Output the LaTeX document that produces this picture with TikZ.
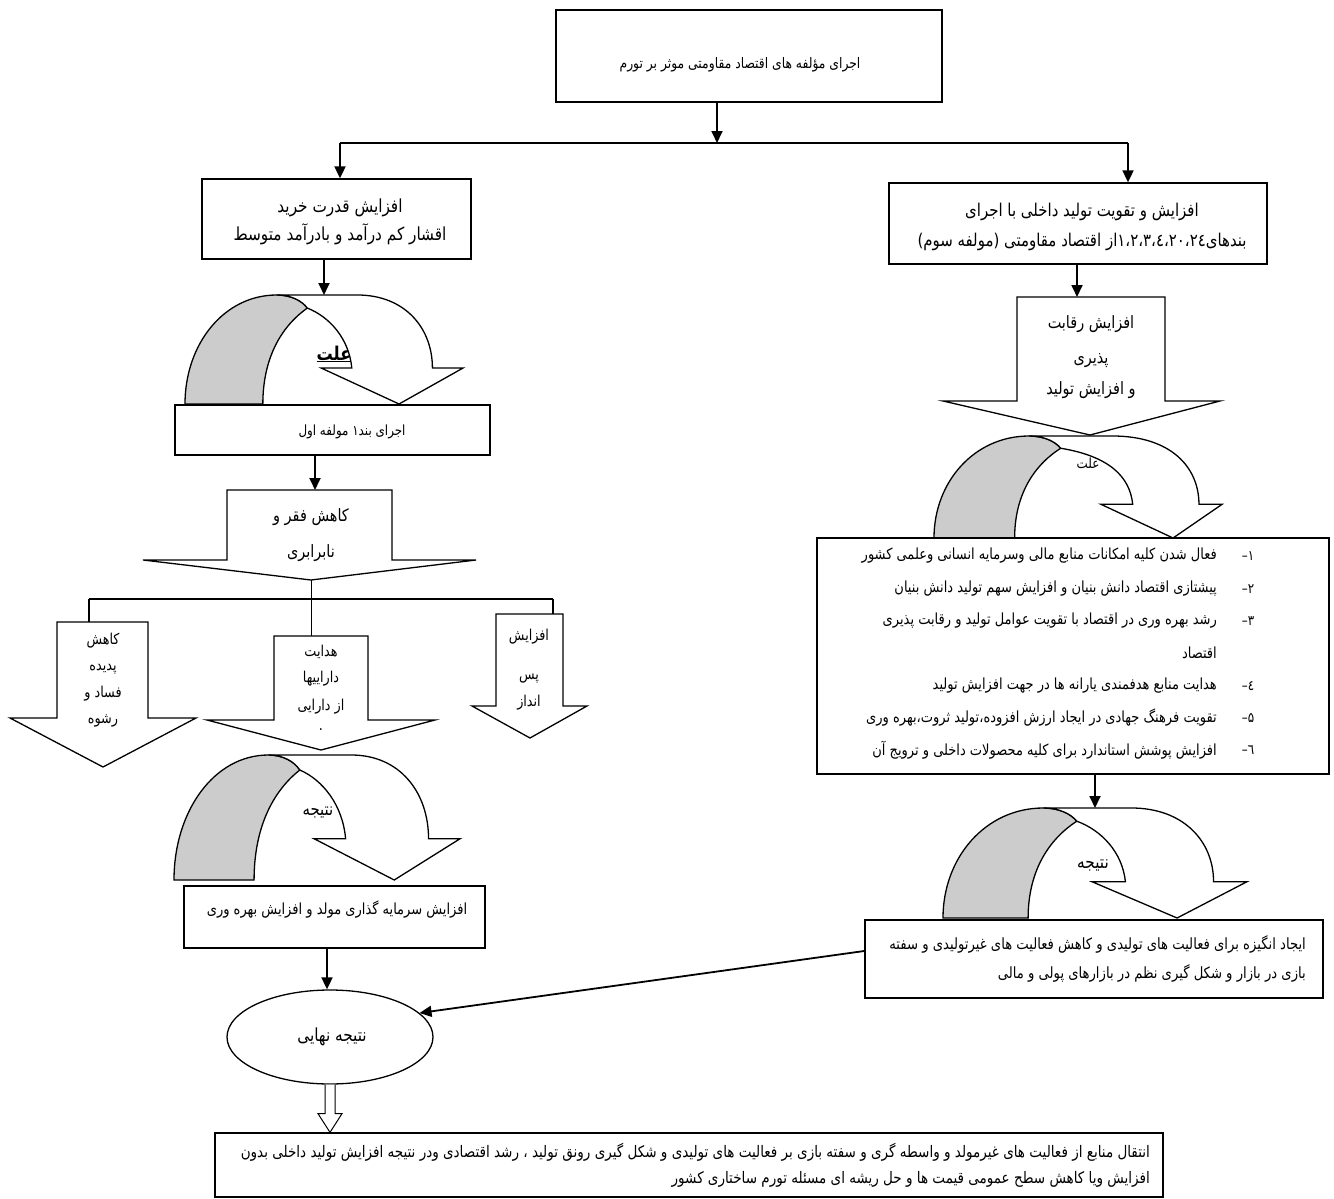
\documentclass[tikz,border=0pt]{standalone}
\usepackage{fontspec}
\newfontfamily\arabicfont[Script=Arabic, FakeStretch=0.85]{DejaVu Sans}
\usetikzlibrary{arrows.meta,shapes.geometric,calc}
\TeXXeTstate=1
\newcommand{\fa}[1]{\beginR #1\endR}
\newcommand{\uHead}{0.49}
\newcommand{\uTip}{0.77}
\newcommand{\uIn}{0.60}
\newcommand{\uOut}{0.89}

\tikzset{
  box/.style={draw, line width=1.3pt, rectangle, inner sep=0pt},
  fa/.style 2 args={font=\arabicfont\fontsize{#1}{#2}\selectfont, inner sep=0pt},
  flow/.style={line width=1.8pt, -{Triangle[length=12pt,width=11pt]}},
  link/.style={line width=1.3pt},
  narrow head/.code={\renewcommand{\uHead}{0.58}\renewcommand{\uTip}{0.83}\renewcommand{\uIn}{0.69}\renewcommand{\uOut}{0.92}},
  uturn/.pic={
    \filldraw[line width=1.3pt, fill=black!20] (0,1) .. controls (0,0.45) and (0.14,0) .. (0.33,0)
      .. controls (0.38,0) and (0.42,0.05) .. (0.44,0.12)
      .. controls (0.34,0.3) and (0.28,0.6) .. (0.28,1) -- cycle;
    \filldraw[line width=1.3pt, fill=white] (0.33,0) -- (0.62,0) .. controls ({\uOut-0.1},0) and (\uOut,0.3) .. (\uOut,0.67)
      -- (1,0.67) -- (\uTip,1) -- (\uHead,0.67) -- (\uIn,0.67)
      .. controls ({\uIn-0.01},0.4) and ({\uIn-0.08},0.2) .. (0.44,0.12)
      .. controls (0.42,0.05) and (0.38,0) .. (0.33,0) -- cycle;
    \coordinate (-top) at (0.5,0);
  }
}

\begin{document}
\begin{tikzpicture}[x=1pt,y=-1pt]
\useasboundingbox (0,0) rectangle (1334,1199);

% top of the chart
\node[box, minimum width=386, minimum height=92] (top) at (749,56) {};
\node[fa={14.5}{18}] (toptext) at (740,65) {\fa{اجرای مؤلفه های اقتصاد مقاومتی موثر بر تورم}};
\coordinate (split) at (717,143);
\coordinate (splitL) at (340,143);
\coordinate (splitR) at (1128,143);
\draw[flow] (top.south -| split) -- (split);
\draw[link] (splitL) -- (splitR);

% left column
\node[box, minimum width=269, minimum height=80] (buy) at (336.5,219) {};
\node[fa={18}{28}, align=center] (buytext) at (340,222)
  {\fa{افزایش قدرت خرید}\\\fa{اقشار کم درآمد و بادرآمد متوسط}};
\draw[flow] (splitL) -- (splitL |- buy.north);

\begin{scope}[shift={(185,295)}, x=278pt, y=-109pt]
  \pic (causeL) {uturn};
\end{scope}
\draw[flow] (buy.south -| causeL-top) -- (causeL-top);
\node[font=\arabicfont\bfseries\fontsize{19}{20}\selectfont, inner sep=0pt] (causeLtxt) at (334,354) {\fa{\underline{علت}}};

\node[box, minimum width=315, minimum height=50] (band) at (332.5,430) {};
\node[fa={14}{18}] (bandtext) at (352,432) {\fa{اجرای بند١ مولفه اول}};

\draw[link, fill=white] (227,490) -- (392,490) -- (392,560) -- (476,560) -- (311,580) -- (143,560) -- (227,560) -- cycle;
\coordinate (povertyTop) at (315,490);
\coordinate (povertyTip) at (311,580);
\node[fa={17}{36}, align=center] (poverty) at (311,535) {\fa{کاهش فقر و}\\\fa{نابرابری}};
\draw[flow] (band.south -| povertyTop) -- (povertyTop);

% three branches
\coordinate (forkL) at (89,599);
\coordinate (forkR) at (553,599);
\draw[link] (forkL) -- (forkR);
\draw[line width=0.6pt] (povertyTip) -- (311,636);

\draw[link, fill=white] (57,622) -- (148,622) -- (148,718) -- (196,718) -- (103,767) -- (10,718) -- (57,718) -- cycle;
\node[fa={15}{26.5}, align=center] (graft) at (103,680) {\fa{کاهش}\\\fa{پدیده}\\\fa{فساد و}\\\fa{رشوه}};
\draw[link] (forkL) -- (89,622);

\draw[link, fill=white] (274,636) -- (368,636) -- (368,720) -- (435,720) -- (321,750) -- (207,720) -- (274,720) -- cycle;
\node[fa={15}{26}, align=center] (assets) at (321,688) {\fa{هدایت}\\\fa{داراییها}\\[2pt]\fa{از دارایی}\\[-6pt].};

\draw[link, fill=white] (496,614) -- (563,614) -- (563,706) -- (587,706) -- (530,738) -- (472,706) -- (496,706) -- cycle;
\node[fa={15}{27}, align=center] (saving) at (529,670) {\fa{افزایش}\\[12pt]\fa{پس}\\\fa{انداز}};
\draw[link] (forkR) -- (553,614);

\begin{scope}[shift={(174,755)}, x=286pt, y=-125pt]
  \pic (resultL) {uturn};
\end{scope}
\node[fa={17.5}{20}] (resultLtxt) at (318,813) {\fa{نتیجه}};

\node[box, minimum width=301, minimum height=62] (invest) at (334.5,917) {};
\node[fa={15.3}{18}] (investtext) at (337,910) {\fa{افزایش سرمایه گذاری مولد و افزایش بهره وری}};

\node[draw, ellipse, line width=1.3pt, minimum width=206, minimum height=94] (final) at (330,1037) {};
\node[fa={18}{20}] (finaltext) at (332,1037) {\fa{نتیجه نهایی}};
\draw[flow] (invest.south -| 327,0) -- (final.north -| 327,0);

% right column
\node[box, minimum width=378, minimum height=81] (prod) at (1078,223.5) {};
\node[fa={17.6}{30}, align=center] (prodtext) at (1082,227)
  {\fa{افزایش و تقویت تولید داخلی با اجرای}\\\fa{بندهای١،٢،٣،٤،٢٠،٢٤از اقتصاد مقاومتی (مولفه سوم)}};
\draw[flow] (splitR) -- (splitR |- prod.north);

\draw[link, fill=white] (1017,297) -- (1165,297) -- (1165,401) -- (1220,401) -- (1090,435) -- (943,401) -- (1017,401) -- cycle;
\coordinate (competeTop) at (1077,297);
\node[fa={17}{31}, align=center] (compete) at (1091,357) {\fa{افزایش رقابت}\\[4pt]\fa{پذیری}\\\fa{و افزایش تولید}};
\draw[flow] (prod.south -| competeTop) -- (competeTop);

\begin{scope}[shift={(934,436)}, x=288pt, y=-102pt, narrow head]
  \pic (causeR) {uturn};
\end{scope}
\node[fa={14}{16}] (causeRtxt) at (1088,463) {\fa{علت}};

\node[box, minimum width=512, minimum height=236] (list) at (1073,656) {};
\node[fa={15.3}{18}, anchor=east] (item1) at (1217,556) {\fa{فعال شدن کلیه امکانات منابع مالی وسرمایه انسانی وعلمی کشور}};
\node[fa={15.3}{18}, anchor=east] (item2) at (1217,589) {\fa{پیشتازی اقتصاد دانش بنیان و افزایش سهم تولید دانش بنیان}};
\node[fa={15.3}{18}, anchor=east] (item3) at (1217,621) {\fa{رشد بهره وری در اقتصاد با تقویت عوامل تولید و رقابت پذیری}};
\node[fa={15.3}{18}, anchor=east] (item3b) at (1217,653) {\fa{اقتصاد}};
\node[fa={15.3}{18}, anchor=east] (item4) at (1217,686) {\fa{هدایت منابع هدفمندی یارانه ها در جهت افزایش تولید}};
\node[fa={15.3}{18}, anchor=east] (item5) at (1217,718) {\fa{تقویت فرهنگ جهادی در ایجاد ارزش افزوده،تولید ثروت،بهره وری}};
\node[fa={15.3}{18}, anchor=east] (item6) at (1217,750) {\fa{افزایش  پوشش استاندارد برای کلیه محصولات داخلی و ترویج آن}};
\node[fa={14}{16}] (num1) at (1248,556) {١–};
\node[fa={14}{16}] (num2) at (1248,589) {٢–};
\node[fa={14}{16}] (num3) at (1248,621) {٣–};
\node[fa={14}{16}] (num4) at (1248,686) {٤–};
\node[fa={14}{16}] (num5) at (1248,718) {۵–};
\node[fa={14}{16}] (num6) at (1248,750) {٦–};

\begin{scope}[shift={(943,808)}, x=304pt, y=-110pt]
  \pic (resultR) {uturn};
\end{scope}
\draw[flow] (list.south -| resultR-top) -- (resultR-top);
\node[fa={18}{20}] (resultRtxt) at (1093,865) {\fa{نتیجه}};

\node[box, minimum width=458, minimum height=78] (incentive) at (1094,959) {};
\node[fa={15.5}{29}, align=right, anchor=east] (incentivetext) at (1306,959)
  {\fa{ایجاد انگیزه برای فعالیت های تولیدی و کاهش فعالیت های غیرتولیدی و سفته}\\\fa{بازی در بازار و شکل گیری نظم در بازارهای پولی و مالی}};
\draw[flow] (incentive.178) -- (final.15);

% bottom
\node[box, minimum width=948, minimum height=64] (summary) at (689,1165) {};
\node[fa={15.9}{26}, align=right, anchor=east] (summarytext) at (1150,1165)
  {\fa{انتقال منابع از فعالیت های غیرمولد و واسطه گری و سفته بازی بر فعالیت های تولیدی و شکل گیری رونق تولید ، رشد اقتصادی ودر نتیجه افزایش تولید داخلی بدون}\\\fa{افزایش ویا کاهش سطح عمومی قیمت ها و حل ریشه ای مسئله تورم ساختاری کشور}};
\draw[line width=1pt, fill=white] ($(final.south)+(-5,0)$) -- ($(final.south)+(-5,29)$) -- ($(final.south)+(-12,29)$)
  -- (summary.north -| final.south) -- ($(final.south)+(12,29)$) -- ($(final.south)+(5,29)$) -- ($(final.south)+(5,0)$);
\end{tikzpicture}
\end{document}
